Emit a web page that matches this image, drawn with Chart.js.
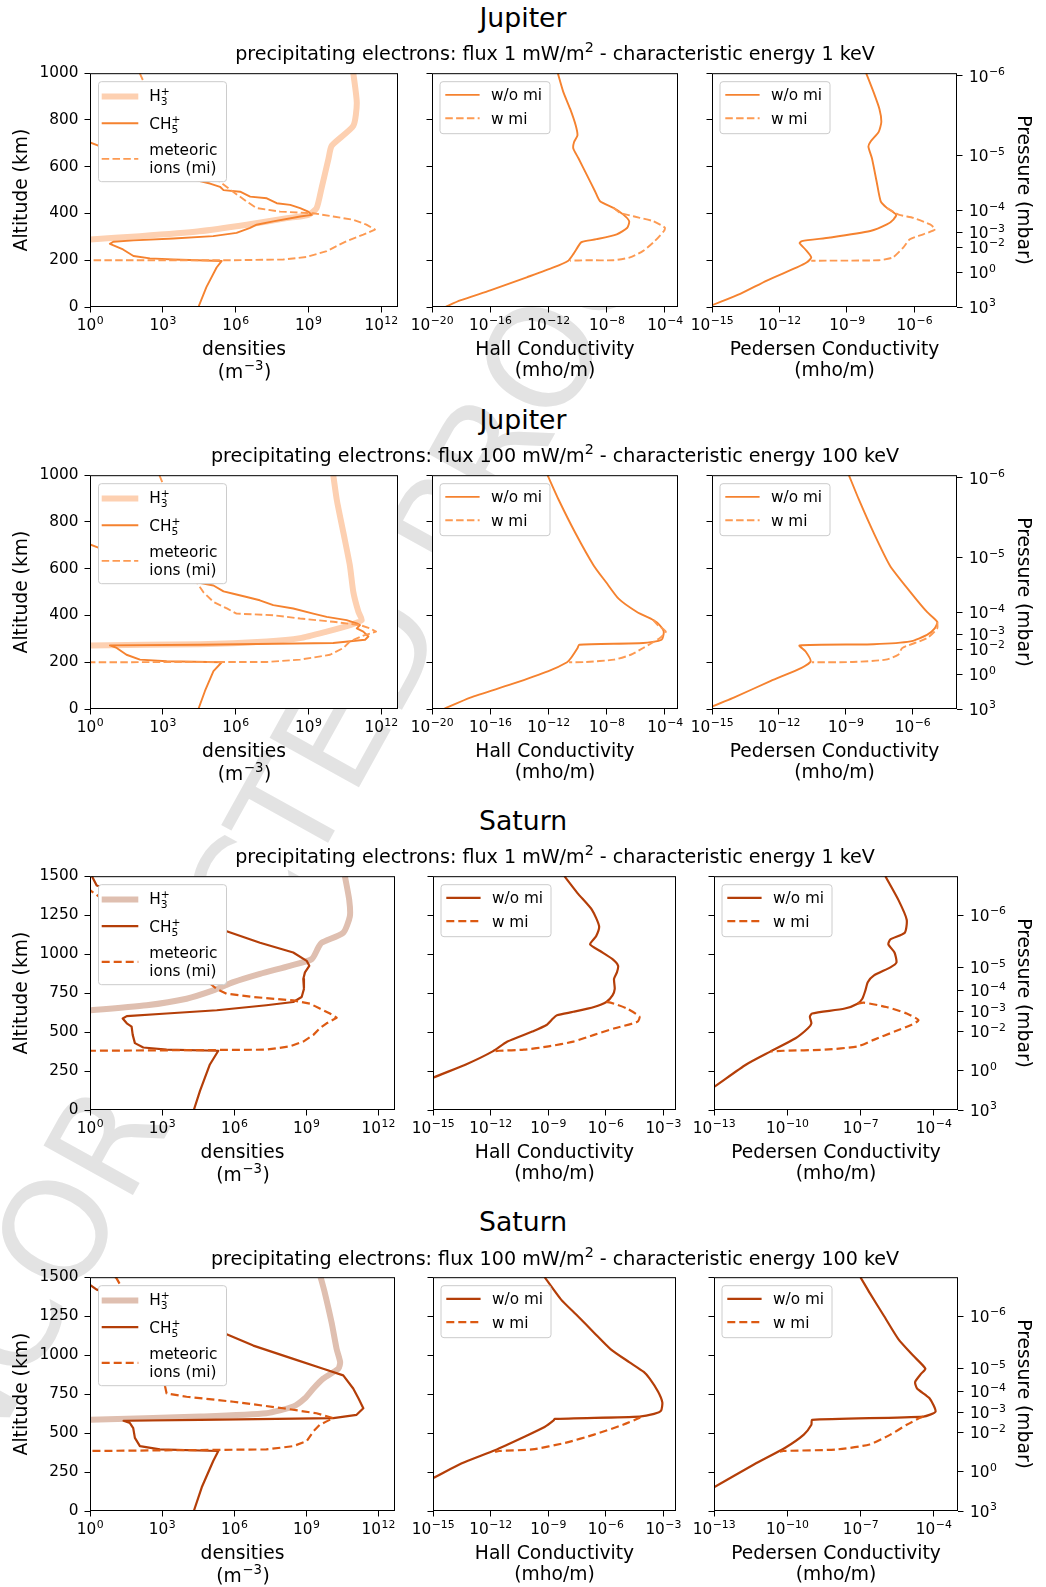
<!DOCTYPE html>
<html>
<head>
<meta charset="utf-8">
<script src="https://cdn.jsdelivr.net/npm/chart.js@4.4.0/dist/chart.umd.min.js"></script>
<style>
  body { margin: 0; background: #fff; width: 1046px; height: 1587px; position: relative; overflow: hidden; font-family: "DejaVu Sans", sans-serif; }
  canvas { position: absolute; }
  .wm { position: absolute; font-size: 140px; color: #e3e3e3; white-space: nowrap; line-height: 1; transform: translate(-50%, -50%) rotate(-61deg); }
  .t1, .t2 { position: absolute; transform: translate(-50%, -50%); white-space: nowrap; color: #000; line-height: 1.2; }
  .t1 { font-size: 26.7px; }
  .t2 { font-size: 19.1px; }
  sup { font-size: 75%; line-height: 0; vertical-align: 0.55em; }
</style>
</head>
<body>
<div class="wm" style="left:272px; top:845px;">UNCORRECTED PROOF</div>

<script>
// values: [altitude km, value]

// Jupiter, flux 1 mW/m2, 1 keV
const jup1H3 = [[1000,7.2e10],[873,1.0e11],[775,7.2e10],[690,9.3e9],[634,6.8e9],[507,3.5e9],[423,2.2e9],[394,1.0e9],[380,1.3e8],[352,2.9e6],[324,3.2e4],[303,115],[289,1],[280,0.1]];
const jup1Ch5 = [[1000,0.1],[760,0.32],[704,1],[690,2.2],[620,316],[560,1e4],[542,2.5e4],[528,8.9e4],[514,2.3e5],[500,3.2e5],[493,1.55e6],[472,4e6],[465,1.95e7],[444,5e7],[437,1.8e8],[423,4.6e8],[408,1e9],[394,1.4e9],[387,4.6e8],[383,2.8e8],[366,3.6e7],[352,7.4e6],[338,4e6],[317,1.1e6],[303,1.2e5],[293,2.75e3],[285,62],[279,9.1],[270,6.6],[246,23],[218,62],[208,295],[203,2.75e3],[197,2.7e5],[169,1.66e5],[85,6.3e4],[0,2.95e4]];
const jup1Mi = [[1000,112],[965,160],[800,1e3],[650,1e4],[535,2.3e5],[493,7.9e5],[451,2.9e6],[423,7.4e6],[408,6.9e7],[401,1.6e9],[387,1.07e10],[373,7.2e10],[352,2.5e11],[331,5.6e11],[310,1.86e11],[282,3.8e10],[239,5.75e9],[214,8.5e8],[203,9.3e7],[200,7.9e5],[200,0.1]];
const jup1HallNo = [[1000,4.4e-12],[918,1.07e-11],[847,3.1e-11],[777,7.4e-11],[734,9.8e-11],[706,5.75e-11],[678,5.1e-11],[636,1.15e-10],[565,4.3e-10],[494,1.6e-9],[452,3.5e-9],[424,2.9e-8],[395,1.4e-7],[367,3.5e-7],[339,2.6e-7],[311,4.9e-8],[290,2.0e-9],[278,1.95e-10],[268,1.35e-10],[226,5.1e-11],[198,2.3e-11],[169,2.2e-12],[127,3.2e-14],[71,1e-16],[28,8.7e-19],[0,8.1e-20]];
const jup1HallMi = [[424,2.9e-8],[403,8.1e-8],[388,6.8e-7],[367,1.6e-5],[339,1.0e-4],[325,8.5e-5],[282,2.0e-5],[240,3.2e-6],[212,4.0e-7],[200,2.9e-8],[200,4.3e-10],[198,3.1e-11]];
const jup1PedNo = [[1000,7.2e-9],[918,1.55e-8],[847,2.8e-8],[791,3.4e-8],[749,2.6e-8],[706,1.1e-8],[685,9.1e-9],[636,1.3e-8],[537,2.1e-8],[452,3.2e-8],[424,6.0e-8],[395,1.55e-7],[374,1.17e-7],[353,6.0e-8],[325,1.1e-8],[297,1.8e-10],[282,1.0e-11],[273,7.9e-12],[247,1.4e-11],[212,2.6e-11],[191,1.66e-11],[169,6.0e-12],[113,2.75e-13],[56,1.8e-14],[7,1e-15],[0,7e-16]];
const jup1PedMi = [[424,6.0e-8],[395,2.0e-7],[381,9.1e-7],[353,5.0e-6],[332,8.5e-6],[311,2.5e-6],[290,6.3e-7],[254,3.2e-7],[212,1.1e-7],[200,2.6e-8],[198,2.6e-11]];

// Jupiter, flux 100 mW/m2, 100 keV
const jup2H3 = [[1000,1.07e10],[894,1.5e10],[754,2.8e10],[613,5.2e10],[500,7.2e10],[415,1.17e11],[380,1.6e11],[359,5.2e10],[331,5.75e9],[303,4.6e8],[289,1.95e7],[277,3.5e4],[272,1],[268,0.1]];
const jup2Ch5 = [[1000,0.1],[760,0.32],[704,1],[690,2.2],[620,316],[560,1e4],[542,2.5e4],[528,1.23e5],[503,3.2e5],[493,8.1e5],[479,2.9e6],[465,1.0e7],[444,3.6e7],[430,2.4e8],[408,1.6e9],[394,5.75e9],[380,3.8e10],[366,1.0e11],[359,1.35e11],[345,1.0e11],[331,1.86e11],[310,3.0e11],[296,2.2e11],[282,1.07e10],[275,3.5e4],[272,6.6],[261,12.6],[232,32],[211,115],[204,1.45e3],[200,2.7e5],[162,1.23e5],[77,5.5e4],[0,2.95e4]];
const jup2Mi = [[1000,725],[965,1e3],[800,3e3],[650,1e4],[542,2.5e4],[500,4.7e4],[458,1.23e5],[430,4.4e5],[408,1.1e6],[401,3.6e7],[387,4.6e8],[373,1.07e10],[359,1.35e11],[345,3.5e11],[331,6.2e11],[314,1.86e11],[289,5.2e10],[261,2.8e10],[232,7.9e9],[211,4.6e8],[201,1.95e7],[200,1],[200,0.1]];
const jup2HallNo = [[1000,8.7e-13],[894,5.1e-12],[754,6.9e-11],[613,1.3e-9],[542,9.1e-9],[472,6.5e-8],[415,1.2e-6],[380,1.6e-5],[359,4.3e-5],[331,8.3e-5],[296,5.9e-5],[282,3.2e-6],[275,1.3e-10],[261,1.0e-10],[218,3.5e-11],[200,1.9e-11],[162,1.0e-12],[106,2.9e-15],[49,4.3e-18],[0,6.3e-20]];
const jup2HallMi = [[380,1.6e-5],[359,3.2e-5],[331,1.15e-4],[303,4.3e-5],[261,3.2e-6],[232,4.5e-7],[211,3.3e-8],[201,3.5e-10],[200,2.6e-11]];
const jup2PedNo = [[1000,1.4e-9],[894,4.0e-9],[754,1.8e-8],[613,9.8e-8],[500,8.1e-7],[415,4.5e-6],[373,1.3e-5],[345,1.0e-5],[317,4.5e-6],[289,8.1e-7],[277,1.8e-8],[272,8.5e-12],[246,1.6e-11],[204,2.7e-11],[176,1.05e-11],[120,4.4e-13],[49,9.5e-15],[10,1e-15],[0,7e-16]];
const jup2PedMi = [[373,1.3e-5],[345,1.3e-5],[303,4.5e-6],[261,3.5e-7],[232,2.3e-7],[211,6.3e-8],[201,2.1e-9],[200,3.0e-11]];

// Saturn, flux 1 mW/m2, 1 keV
const sat1H3 = [[1500,4.1e10],[1348,6.2e10],[1242,6.6e10],[1137,3.5e10],[1073,4.4e9],[1042,3.2e9],[968,1.7e9],[925,2.1e8],[873,1.2e7],[820,9.3e5],[767,1.35e5],[714,1.05e4],[672,230],[640,1],[630,0.1]];
const sat1Ch5 = [[1500,1.2],[1440,1.9],[1300,1e3],[1147,4.9e5],[1073,1.2e7],[1010,2.9e8],[957,1.05e9],[925,1.35e9],[883,8.9e8],[841,7.6e8],[777,8.1e8],[725,6.5e8],[693,2.9e8],[672,2.2e7],[640,1.9e5],[619,1.55e3],[602,34],[587,23],[556,34],[535,54],[482,60],[429,74],[401,166],[387,1.55e3],[380,2.2e5],[292,9.8e4],[123,3.8e4],[0,2.1e4]];
const sat1Mi = [[1500,0.1],[1443,0.5],[1300,10],[1100,1e3],[900,3e4],[820,8.5e4],[777,1.86e5],[746,4.9e5],[725,6.3e6],[703,2.9e8],[682,1.45e9],[651,3.7e9],[619,9.8e9],[592,1.86e10],[556,7.1e9],[524,3.7e9],[482,2.0e9],[439,7.6e8],[408,2.1e8],[387,2.2e7],[380,1],[380,0.1]];
const sat1HallNo = [[1500,7.1e-9],[1390,3.5e-8],[1284,1.95e-7],[1179,4.6e-7],[1115,3.2e-7],[1063,1.55e-7],[1020,5.2e-7],[968,2.3e-6],[925,4.5e-6],[883,3.9e-6],[841,2.75e-6],[777,3.0e-6],[735,2.3e-6],[693,1.1e-6],[661,2.5e-7],[630,2.1e-8],[608,2.9e-9],[587,1.8e-9],[545,8.3e-10],[503,1.5e-10],[439,7.6e-12],[376,1.3e-12],[292,5.2e-14],[207,1e-15],[180,4e-16]];
const sat1HallMi = [[693,1.1e-6],[689,1.8e-6],[651,1.3e-5],[598,5.9e-5],[566,4.6e-5],[524,3.0e-6],[482,2.5e-7],[439,2.1e-8],[408,1.07e-9],[387,5.5e-11],[380,2.8e-12],[376,1.3e-12]];
const sat1PedNo = [[1500,1.05e-6],[1348,3.6e-6],[1221,7.9e-6],[1137,6.6e-6],[1094,1.7e-6],[1063,1.4e-6],[1010,2.5e-6],[946,3.0e-6],[915,1.7e-6],[862,3.5e-7],[820,2.0e-7],[767,1.6e-7],[714,1.2e-7],[682,7.6e-8],[651,2.3e-8],[619,1.05e-9],[598,8.5e-10],[556,9.8e-10],[524,7.1e-10],[460,2.2e-10],[376,2.1e-11],[292,2.1e-12],[148,1e-13],[120,5e-14]];
const sat1PedMi = [[682,7.6e-8],[689,1.35e-7],[661,1.15e-6],[619,7.9e-6],[577,2.4e-5],[545,1.2e-5],[503,2.5e-6],[450,3.5e-7],[408,7.6e-8],[387,3.4e-9],[380,6.9e-11],[376,2.1e-11]];

// Saturn, flux 100 mW/m2, 100 keV
const sat2H3 = [[1500,4.0e9],[1399,6.0e9],[1208,1.15e10],[1039,1.86e10],[955,2.6e10],[913,2.2e10],[849,5.1e9],[786,2.0e9],[723,8.9e8],[670,2.9e8],[627,2.2e7],[606,3.8e4],[585,1],[580,0.1]];
const sat2Ch5 = [[1500,0.1],[1451,1],[1420,1.9],[1300,1e3],[1134,4.9e5],[1061,6.3e6],[976,2.9e8],[913,5.1e9],[870,3.5e10],[786,9.1e10],[723,1.5e11],[659,2.4e11],[617,1.26e11],[596,1.35e10],[585,3.8e4],[579,25],[564,46],[532,63],[469,74],[416,120],[395,810],[385,2.2e5],[321,1.35e5],[152,4.5e4],[0,2.1e4]];
const sat2Mi = [[1500,11],[1494,12.6],[1452,18],[1300,63],[1000,400],[807,1.3e3],[754,1.55e3],[733,1.05e4],[701,9.3e5],[659,1.1e8],[627,2.7e9],[596,1.35e10],[575,7.1e9],[553,3.7e9],[511,2.0e9],[448,1.05e9],[416,2.9e8],[395,2.2e7],[385,1],[385,0.1]];
const sat2HallNo = [[1500,6.6e-10],[1356,4.8e-9],[1251,3.5e-8],[1144,2.5e-7],[1039,1.8e-6],[955,1.7e-5],[892,9.8e-5],[849,2.0e-4],[765,5.5e-4],[697,9.1e-4],[644,7.8e-4],[623,3.4e-4],[606,5.9e-5],[591,2.2e-9],[581,1.95e-9],[539,6.6e-10],[475,5.5e-11],[390,1.7e-12],[306,3.2e-14],[211,1e-15],[190,4e-16]];
const sat2HallMi = [[606,5.9e-5],[598,6.0e-5],[553,8.1e-6],[490,2.5e-7],[437,7.8e-9],[395,1.5e-10],[385,2.8e-12],[380,1.7e-12]];
const sat2PedNo = [[1500,1.0e-7],[1420,2.0e-7],[1399,2.4e-7],[1251,9.3e-7],[1103,3.6e-6],[997,1.45e-5],[913,4.6e-5],[881,3.1e-5],[828,1.75e-5],[786,2.1e-5],[723,6.8e-5],[638,1.2e-4],[606,3.8e-5],[585,1.05e-9],[553,9.8e-10],[490,4.8e-10],[406,8.3e-11],[300,4.5e-12],[152,1e-13],[120,5e-14]];
const sat2PedMi = [[606,3.8e-5],[596,2.6e-5],[553,7.9e-6],[490,1.7e-6],[427,2.4e-7],[395,1.07e-8],[385,6.9e-11],[380,5e-11]];

// axes
const densTicks = [1, 1e3, 1e6, 1e9, 1e12];
const jupHallTicks = [1e-20, 1e-16, 1e-12, 1e-8, 1e-4];
const jupPedTicks = [1e-15, 1e-12, 1e-9, 1e-6];
const satHallTicks = [1e-15, 1e-12, 1e-9, 1e-6, 1e-3];
const satPedTicks = [1e-13, 1e-10, 1e-7, 1e-4];
const jupAltTicks = [0, 200, 400, 600, 800, 1000];
const satAltTicks = [0, 250, 500, 750, 1000, 1250, 1500];
const pressExp = [-6, -5, -4, -3, -2, 0, 3];          // pressure tick labels, 10^n mbar
const jupPressAlt = [988, 648, 413, 320, 256, 146, 0];
const satPressAlt = [1250, 916, 765, 633, 504, 255, 0];

const JUP = { h3: '#fdd0b1', ch5: '#f5822f', mi: '#fd9a52', lw: 1.9, dash: [7.5, 3.3] };
const SAT = { h3: '#dfbfb0', ch5: '#b43e08', mi: '#dd5a12', lw: 2.2, dash: [8, 4] };

const FONT = 'DejaVu Sans';
Chart.defaults.font.family = FONT;
Chart.defaults.color = '#000';

function curve(list, color, width, dash, order, tension) {
  return {
    data: list.map(p => ({ x: p[1], y: p[0] })),
    showLine: true, pointRadius: 0, borderColor: color, borderWidth: width,
    borderDash: dash || [], order: order, tension: tension || 0,
    borderCapStyle: 'butt', borderJoinStyle: 'round'
  };
}

// white axes background + black frame
const framePlugin = {
  id: 'frame',
  beforeDraw(chart) {
    const a = chart.chartArea, ctx = chart.ctx;
    ctx.save();
    ctx.fillStyle = '#fff';
    ctx.fillRect(a.left, a.top, a.right - a.left, a.bottom - a.top);
    ctx.restore();
  },
  afterDraw(chart) {
    const a = chart.chartArea, ctx = chart.ctx;
    ctx.save();
    ctx.strokeStyle = '#000';
    ctx.lineWidth = 1;
    ctx.strokeRect(a.left + 0.5, a.top + 0.5, a.right - a.left - 1, a.bottom - a.top - 1);
    ctx.restore();
  }
};

// text with a raised exponent, like matplotlib mathtext
function drawSup(ctx, x, y, base, ex, size, align, tail) {
  const small = size * 0.71;
  ctx.font = size + 'px "' + FONT + '"';
  const wb = ctx.measureText(base).width;
  const wt = tail ? ctx.measureText(tail).width : 0;
  ctx.font = small + 'px "' + FONT + '"';
  const we = ctx.measureText(ex).width;
  const x0 = align === 'center' ? x - (wb + we + wt) / 2 : x;
  ctx.font = size + 'px "' + FONT + '"';
  ctx.fillText(base, x0, y);
  if (tail) ctx.fillText(tail, x0 + wb + we + 1, y);
  ctx.font = small + 'px "' + FONT + '"';
  ctx.fillText(ex, x0 + wb + 0.5, y - size * 0.41);
}
function expText(e) { return (e < 0 ? '\u2212' : '') + Math.abs(e); }

const mathTickPlugin = {
  id: 'mathTicks',
  afterDraw(chart, args, o) {
    const ctx = chart.ctx, a = chart.chartArea;
    ctx.save();
    ctx.fillStyle = '#000';
    ctx.textAlign = 'left';
    ctx.textBaseline = 'alphabetic';
    const sx = chart.scales.x;
    o.xTicks.forEach(v => drawSup(ctx, sx.getPixelForValue(v), a.bottom + 23, '10', expText(Math.round(Math.log10(v))), 15.3, 'center'));
    if (o.press) {
      const sp = chart.scales.yP;
      o.press.forEach((alt, i) => drawSup(ctx, a.right + 12, sp.getPixelForValue(alt) + 5.6, '10', expText(pressExp[i]), 15.3, 'left'));
    }
    if (o.unit) {
      // second line of the density axis label: (m^-3)
      drawSup(ctx, (a.left + a.right) / 2, a.bottom + o.unitY, '(m', '\u22123', 18.7, 'center', ')');
    }
    ctx.restore();
  }
};

// matplotlib-like legend box (all offsets relative to the plot area corner)
function drawChem(ctx, x, y, base, sub, sup) {
  ctx.font = '15.3px "' + FONT + '"';
  ctx.fillText(base, x, y);
  const w = ctx.measureText(base).width;
  ctx.font = '10.7px "' + FONT + '"';
  ctx.fillText(sub, x + w, y + 4);
  ctx.fillText(sup, x + w, y - 6);
}
const legendPlugin = {
  id: 'mplLegend',
  afterDatasetsDraw(chart, args, o) {
    if (!o || !o.items) return;
    const a = chart.chartArea, ctx = chart.ctx;
    const L = a.left, T = a.top;
    ctx.save();
    ctx.beginPath();
    ctx.roundRect(L + o.x + 0.5, T + o.y + 0.5, o.w, o.h, 3);
    ctx.fillStyle = '#fff';
    ctx.fill();
    ctx.strokeStyle = '#cccccc';
    ctx.lineWidth = 1;
    ctx.stroke();
    ctx.textBaseline = 'alphabetic';
    ctx.fillStyle = '#000';
    o.items.forEach(it => {
      ctx.beginPath();
      ctx.strokeStyle = it.color;
      ctx.lineWidth = it.width;
      ctx.setLineDash(it.dash || []);
      ctx.moveTo(L + o.l0, T + it.ly);
      ctx.lineTo(L + o.l1, T + it.ly);
      ctx.stroke();
      ctx.setLineDash([]);
      if (it.chem) {
        drawChem(ctx, L + o.tx, T + it.ty + 5.6, it.chem[0], it.chem[1], it.chem[2]);
      } else {
        ctx.font = '15.3px "' + FONT + '"';
        it.text.forEach((t, k) => ctx.fillText(t, L + o.tx, T + it.ty + 5.6 + k * 17.6));
      }
    });
    ctx.restore();
  }
};

function panel(p) {
  const W = p.lw + p.w + p.rw, H = p.tp + p.h + p.bh;
  const cv = document.createElement('canvas');
  cv.width = W; cv.height = H;
  cv.style.left = (p.x - p.lw) + 'px';
  cv.style.top = (p.y - p.tp) + 'px';
  cv.style.width = W + 'px';
  cv.style.height = H + 'px';
  document.body.appendChild(cv);

  const tickFont = { family: FONT, size: 15.3 };
  const titleFont = { family: FONT, size: 18.7, lineHeight: 1.15 };
  const grid = { drawOnChartArea: false, drawTicks: true, tickLength: 5.5, color: '#000', lineWidth: 1 };

  const scales = {
    x: {
      type: 'logarithmic', position: 'bottom', min: p.xMin, max: p.xMax,
      afterBuildTicks: s => { s.ticks = p.xTicks.map(v => ({ value: v })); },
      afterFit: s => { s.height = p.bh; },
      ticks: { callback: () => '', font: tickFont, padding: 4, maxRotation: 0, autoSkip: false },
      grid: grid, border: { display: false },
      title: { display: true, text: p.xTitle, font: titleFont, color: '#000', padding: { top: 0, bottom: 0 } }
    },
    y: {
      type: 'linear', position: 'left', min: 0, max: p.yMax,
      afterBuildTicks: s => { s.ticks = p.yTicks.map(v => ({ value: v })); },
      afterFit: s => { s.width = p.lw; },
      ticks: { callback: v => p.yLabels ? String(v) : '', font: tickFont, color: '#000', padding: 6, autoSkip: false },
      grid: grid, border: { display: false },
      title: { display: !!p.yTitle, text: p.yTitle || '', font: titleFont, color: '#000', padding: { top: 11, bottom: 0 } }
    }
  };
  if (p.press) {
    scales.yP = {
      type: 'linear', position: 'right', min: 0, max: p.yMax,
      afterBuildTicks: s => { s.ticks = p.press.map(v => ({ value: v })); },
      afterFit: s => { s.width = p.rw; },
      ticks: { callback: () => '', font: tickFont, padding: 6, autoSkip: false },
      grid: grid, border: { display: false },
      title: { display: true, text: 'Pressure (mbar)', font: titleFont, color: '#000', padding: { top: 12.25, bottom: 0 } }
    };
  }

  new Chart(cv, {
    type: 'scatter',
    data: { datasets: p.datasets },
    options: {
      responsive: false, animation: false, events: [],
      layout: { padding: { top: p.tp, left: 0, right: p.press ? 0 : p.rw, bottom: 0 } },
      plugins: {
        legend: { display: false }, tooltip: { enabled: false },
        mplLegend: p.legend,
        mathTicks: { xTicks: p.xTicks, press: p.press || null, unit: !!p.unit, unitY: p.bh - 10.75 + 6.4 }
      },
      scales: scales
    },
    plugins: [framePlugin, legendPlugin, mathTickPlugin]
  });
}

function densLegend(c) {
  return { x: 8, y: 8, w: 128, h: 100, l0: 11.7, l1: 48.3, tx: 59.3, items: [
    { color: c.h3, width: 6, ly: 23.3, ty: 22.3, chem: ['H', '3', '+'] },
    { color: c.ch5, width: c.lw, ly: 50, ty: 50, chem: ['CH', '5', '+'] },
    { color: c.mi, width: c.lw, dash: c.dash, ly: 85.7, ty: 76.7, text: ['meteoric', 'ions (mi)'] }
  ] };
}
function condLegend(c) {
  return { x: 7.5, y: 8, w: 110, h: 52, l0: 13.3, l1: 47.6, tx: 59, items: [
    { color: c.ch5, width: c.lw, ly: 21.7, ty: 21.7, text: ['w/o mi'] },
    { color: c.mi, width: c.lw, dash: c.dash, ly: 45, ty: 45, text: ['w mi'] }
  ] };
}

const rows = [
  { y: 70, c: JUP, yMax: 1000, yTicks: jupAltTicks, press: jupPressAlt, cols: [[90, 308], [432, 246], [712, 245]],
    hTicks: jupHallTicks, hMin: 1e-20, hMax: 7.9e-4, pTicks: jupPedTicks, pMin: 1e-15, pMax: 7.9e-5,
    d: [jup1H3, jup1Ch5, jup1Mi], hall: [jup1HallNo, jup1HallMi], ped: [jup1PedNo, jup1PedMi] },
  { y: 472, c: JUP, yMax: 1000, yTicks: jupAltTicks, press: jupPressAlt, cols: [[90, 308], [432, 246], [712, 245]],
    hTicks: jupHallTicks, hMin: 1e-20, hMax: 7.9e-4, pTicks: jupPedTicks, pMin: 1e-15, pMax: 1e-4,
    d: [jup2H3, jup2Ch5, jup2Mi], hall: [jup2HallNo, jup2HallMi], ped: [jup2PedNo, jup2PedMi] },
  { y: 873, c: SAT, yMax: 1500, yTicks: satAltTicks, press: satPressAlt, cols: [[90, 305], [433, 243], [714, 244]],
    hTicks: satHallTicks, hMin: 1e-15, hMax: 4.7e-3, pTicks: satPedTicks, pMin: 1e-13, pMax: 1e-3,
    d: [sat1H3, sat1Ch5, sat1Mi], hall: [sat1HallNo, sat1HallMi], ped: [sat1PedNo, sat1PedMi] },
  { y: 1274, c: SAT, yMax: 1500, yTicks: satAltTicks, press: satPressAlt, cols: [[90, 305], [433, 243], [714, 244]],
    hTicks: satHallTicks, hMin: 1e-15, hMax: 4.7e-3, pTicks: satPedTicks, pMin: 1e-13, pMax: 1e-3,
    d: [sat2H3, sat2Ch5, sat2Mi], hall: [sat2HallNo, sat2HallMi], ped: [sat2PedNo, sat2PedMi] }
];

rows.forEach(r => {
  const c = r.c, H = 237;
  panel({
    x: r.cols[0][0], y: r.y, w: r.cols[0][1], h: H, lw: 90, rw: 25, tp: 12, bh: 75,
    xMin: 1, xMax: 5e12, xTicks: densTicks, xTitle: ['densities', ' '], unit: true,
    yMax: r.yMax, yTicks: r.yTicks, yLabels: true, yTitle: 'Altitude (km)',
    legend: densLegend(c),
    datasets: [
      curve(r.d[0], c.h3, 6, null, 3, 0.2),
      curve(r.d[1], c.ch5, c.lw, null, 2, 0),
      curve(r.d[2], c.mi, c.lw, c.dash, 1, 0)
    ]
  });
  panel({
    x: r.cols[1][0], y: r.y, w: r.cols[1][1], h: H, lw: 30, rw: 25, tp: 12, bh: 75,
    xMin: r.hMin, xMax: r.hMax, xTicks: r.hTicks, xTitle: ['Hall Conductivity', '(mho/m)'],
    yMax: r.yMax, yTicks: r.yTicks, yLabels: false,
    legend: condLegend(c),
    datasets: [
      curve(r.hall[0], c.ch5, c.lw, null, 2, 0.2),
      curve(r.hall[1], c.mi, c.lw, c.dash, 1, 0.2)
    ]
  });
  panel({
    x: r.cols[2][0], y: r.y, w: r.cols[2][1], h: H, lw: 30, rw: 1046 - r.cols[2][0] - r.cols[2][1], tp: 12, bh: 75,
    xMin: r.pMin, xMax: r.pMax, xTicks: r.pTicks, xTitle: ['Pedersen Conductivity', '(mho/m)'],
    yMax: r.yMax, yTicks: r.yTicks, yLabels: false, press: r.press,
    legend: condLegend(c),
    datasets: [
      curve(r.ped[0], c.ch5, c.lw, null, 2, 0.2),
      curve(r.ped[1], c.mi, c.lw, c.dash, 1, 0.2)
    ]
  });
});

// row titles
const titles = [
  ['Jupiter', 18, 'precipitating electrons: flux 1 mW/m<sup>2</sup> - characteristic energy 1 keV', 53.5],
  ['Jupiter', 420, 'precipitating electrons: flux 100 mW/m<sup>2</sup> - characteristic energy 100 keV', 455.5],
  ['Saturn', 821, 'precipitating electrons: flux 1 mW/m<sup>2</sup> - characteristic energy 1 keV', 857],
  ['Saturn', 1222, 'precipitating electrons: flux 100 mW/m<sup>2</sup> - characteristic energy 100 keV', 1259]
];
titles.forEach(t => {
  const a = document.createElement('div');
  a.className = 't1'; a.style.left = '523px'; a.style.top = t[1] + 'px'; a.textContent = t[0];
  document.body.appendChild(a);
  const b = document.createElement('div');
  b.className = 't2'; b.style.left = '555px'; b.style.top = t[3] + 'px'; b.innerHTML = t[2];
  document.body.appendChild(b);
});
</script>
</body>
</html>
